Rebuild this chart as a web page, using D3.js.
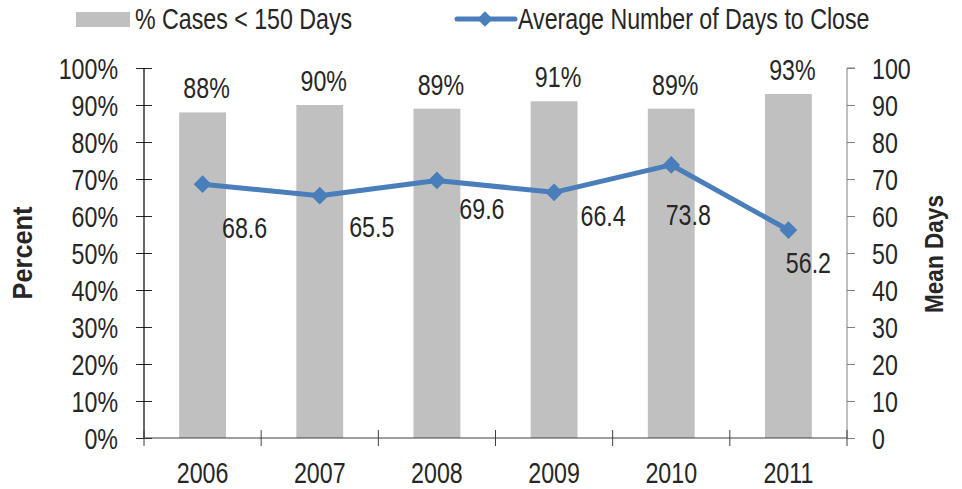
<!DOCTYPE html>
<html>
<head>
<meta charset="utf-8">
<title>Cases closed</title>
<style>
  html, body { margin: 0; padding: 0; background: #fff; }
  svg text { font-family: "Liberation Sans", Arial, sans-serif; fill: #262626; }
  .axis-title { font-weight: bold; }
</style>
</head>
<body>
<svg width="962" height="489"></svg>
<script src="https://cdn.jsdelivr.net/npm/d3@7"></script>
<script>
// chart data
const years = ["2006", "2007", "2008", "2009", "2010", "2011"];
const pctUnder150 = [88, 90, 89, 91, 89, 93];
const avgDays = [68.6, 65.5, 69.6, 66.4, 73.8, 56.2];
const pctTicks = [0, 10, 20, 30, 40, 50, 60, 70, 80, 90, 100];
const dayTicks = [0, 10, 20, 30, 40, 50, 60, 70, 80, 90, 100];

// where each line label sits relative to its point (px)
const lineLabelOffsets = [[42, 43], [52, 31], [45, 28], [49, 23], [17, 50], [20, 33]];

const svg = d3.select("svg");
const fontSize = 29;
const SX = 0.8; // squeeze Liberation Sans into a narrow face
const barColor = "#c0c0c0";
const lineColor = "#4a7ebb";

const plotL = 144, plotR = 847, plotT = 68, plotB = 438;

const x = d3.scaleBand().domain(years).range([plotL, plotR]).paddingInner(0).paddingOuter(0);
const yPct = d3.scaleLinear().domain([0, 100]).range([plotB, plotT]);
const yDays = d3.scaleLinear().domain([0, 100]).range([plotB, plotT]);

const barW = x.bandwidth() * 0.4;

// bars
svg.append("g").selectAll("rect")
  .data(years)
  .join("rect")
  .attr("x", d => x(d) + x.bandwidth() / 2 - barW / 2)
  .attr("y", (d, i) => yPct(pctUnder150[i]))
  .attr("width", barW)
  .attr("height", (d, i) => yPct(0) - yPct(pctUnder150[i]))
  .attr("fill", barColor);

// bar labels
svg.append("g").selectAll("text")
  .data(years)
  .join("text")
  .attr("x", d => x(d) + x.bandwidth() / 2 + 4)
  .attr("y", (d, i) => yPct(pctUnder150[i]) - 14)
  .attr("text-anchor", "middle")
  .attr("font-size", fontSize)
  .text((d, i) => pctUnder150[i] + "%");

// left axis
const leftAxis = svg.append("g")
  .attr("transform", `translate(${plotL},0)`)
  .call(d3.axisLeft(yPct).tickValues(pctTicks).tickFormat(d => d + "%").tickSize(8));
leftAxis.select(".domain").remove();
leftAxis.selectAll(".tick line").attr("x2", -8).attr("x1", 8).attr("stroke", "#262626");
leftAxis.selectAll(".tick text")
  .attr("x", -26).attr("font-size", fontSize).attr("font-family", null).attr("dy", "0.36em");
svg.append("line")
  .attr("x1", plotL).attr("x2", plotL)
  .attr("y1", yPct(100)).attr("y2", plotB)
  .attr("stroke", "#000").attr("stroke-width", 1.2);

// right axis
const rightAxis = svg.append("g")
  .attr("transform", `translate(${plotR},0)`)
  .call(d3.axisRight(yDays).tickValues(dayTicks).tickSize(8));
rightAxis.select(".domain").attr("stroke", "#808080").attr("d", `M8,${plotT}H0V${plotB}`);
rightAxis.selectAll(".tick line").attr("stroke", "#808080");
rightAxis.selectAll(".tick text")
  .attr("x", 25).attr("font-size", fontSize).attr("font-family", null).attr("dy", "0.36em");

// x axis
const xAxis = svg.append("g")
  .attr("transform", `translate(0,${plotB})`);
xAxis.append("line")
  .attr("x1", plotL).attr("x2", plotR)
  .attr("stroke", "#404040").attr("stroke-width", 1.2);
const bounds = years.map(d => x(d)).concat([plotR]);
xAxis.selectAll("line.tk")
  .data(bounds)
  .join("line")
  .attr("class", "tk")
  .attr("x1", d => d).attr("x2", d => d)
  .attr("y1", -8).attr("y2", 8)
  .attr("stroke", "#404040");
xAxis.selectAll("text")
  .data(years)
  .join("text")
  .attr("x", d => x(d) + x.bandwidth() / 2)
  .attr("y", 45)
  .attr("text-anchor", "middle")
  .attr("font-size", fontSize)
  .text(d => d);

// line series
const pts = years.map((d, i) => [x(d) + x.bandwidth() / 2, yDays(avgDays[i])]);
svg.append("path")
  .datum(pts)
  .attr("d", d3.line())
  .attr("fill", "none")
  .attr("stroke", lineColor)
  .attr("stroke-width", 5)
  .attr("stroke-linejoin", "round");

const diamond = d3.symbol().type(d3.symbolDiamond2).size(200);
svg.append("g").selectAll("path")
  .data(pts)
  .join("path")
  .attr("transform", d => `translate(${d[0]},${d[1]})`)
  .attr("d", diamond)
  .attr("fill", lineColor);

svg.append("g").selectAll("text")
  .data(pts)
  .join("text")
  .attr("x", (d, i) => d[0] + lineLabelOffsets[i][0])
  .attr("y", (d, i) => d[1] + lineLabelOffsets[i][1])
  .attr("dy", "0.36em")
  .attr("text-anchor", "middle")
  .attr("font-size", fontSize)
  .text((d, i) => avgDays[i].toFixed(1));

// axis titles
svg.append("text")
  .attr("class", "axis-title")
  .attr("transform", `translate(32,253) rotate(-90)`)
  .attr("text-anchor", "middle")
  .attr("font-size", 27)
  .attr("textLength", 93 / SX)
  .attr("lengthAdjust", "spacingAndGlyphs")
  .text("Percent");
svg.append("text")
  .attr("class", "axis-title")
  .attr("transform", `translate(943,254) rotate(-90)`)
  .attr("text-anchor", "middle")
  .attr("font-size", 26)
  .attr("textLength", 118 / SX)
  .attr("lengthAdjust", "spacingAndGlyphs")
  .text("Mean Days");

// legend
const lg = svg.append("g");
lg.append("rect")
  .attr("x", 76).attr("y", 12).attr("width", 54).attr("height", 15)
  .attr("fill", barColor);
lg.append("text")
  .attr("x", 135).attr("y", 29)
  .attr("font-size", fontSize)
  .text("% Cases < 150 Days");
lg.append("line")
  .attr("x1", 457).attr("x2", 515).attr("y1", 19).attr("y2", 19)
  .attr("stroke", lineColor).attr("stroke-width", 5).attr("stroke-linecap", "round");
lg.append("path")
  .attr("transform", "translate(485,19)")
  .attr("d", d3.symbol().type(d3.symbolDiamond2).size(150))
  .attr("fill", lineColor);
lg.append("text")
  .attr("x", 518).attr("y", 29)
  .attr("font-size", fontSize)
  .text("Average Number of Days to Close");

// narrow every label horizontally, keeping its anchor point
svg.selectAll("text").each(function () {
  const t = d3.select(this);
  const tx = +t.attr("x") || 0;
  const tr = t.attr("transform") || "";
  t.attr("x", tx / SX).attr("transform", `${tr} scale(${SX},1)`);
});
</script>
</body>
</html>
